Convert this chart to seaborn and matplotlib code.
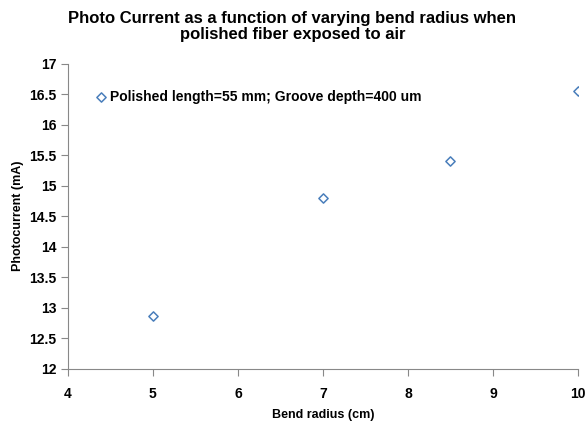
import matplotlib
matplotlib.use("Agg")
import matplotlib.pyplot as plt
import seaborn as sns
import pandas as pd

bend_radius = [5, 7, 8.5, 10]
photocurrent = [12.86, 14.80, 15.40, 16.56]
series_name = "Polished length=55 mm; Groove depth=400 um"
x_ticks = [4, 5, 6, 7, 8, 9, 10]
y_ticks = [12, 12.5, 13, 13.5, 14, 14.5, 15, 15.5, 16, 16.5, 17]

sns.set_style("white")
plt.rcParams['font.family'] = ['Liberation Sans', 'DejaVu Sans']
plt.rcParams['font.weight'] = 'bold'
plt.rcParams['text.color'] = 'black'
plt.rcParams['axes.labelcolor'] = 'black'

df = pd.DataFrame({"x": bend_radius, "y": photocurrent})

fig = plt.figure(figsize=(5.85, 4.28), dpi=100)
ax = fig.add_axes([0.116, 0.139, 0.872, 0.712])

sns.scatterplot(data=df, x="x", y="y", ax=ax, marker="D", s=22,
                facecolor="white", edgecolor="#4A7EBB", linewidth=1.1,
                label=series_name)

ax.set_xlim(4, 10)
ax.set_ylim(12, 17)
ax.set_xticks(x_ticks)
ax.set_xticklabels([str(t) for t in x_ticks], fontsize=10, fontweight='bold')
ax.set_yticks(y_ticks)
ax.set_yticklabels([f"{t:g}" for t in y_ticks], fontsize=10, fontweight='bold')
ax.tick_params(axis='both', direction='out', length=5, width=0.8, color='#888888',
               labelcolor='black', left=True, bottom=True, pad=3)
ax.tick_params(axis='x', pad=8)

for s in ['top', 'right']:
    ax.spines[s].set_visible(False)
for s in ['left', 'bottom']:
    ax.spines[s].set_color('#888888')
    ax.spines[s].set_linewidth(0.8)

ax.set_xlabel("Bend radius (cm)", fontsize=9, fontweight='bold', labelpad=6)
ax.set_ylabel("Photocurrent (mA)", fontsize=9, fontweight='bold', labelpad=4)
fig.suptitle("Photo Current as a function of varying bend radius when\npolished fiber exposed to air",
             fontsize=12, fontweight='bold', y=0.975, linespacing=1.1)

leg = ax.legend(loc='upper left', bbox_to_anchor=(0.03, 0.947), frameon=False,
                prop={'size': 10, 'weight': 'bold'}, handletextpad=0.1,
                borderaxespad=0.3, handlelength=1.1)

fig.savefig("out.png", dpi=100)
